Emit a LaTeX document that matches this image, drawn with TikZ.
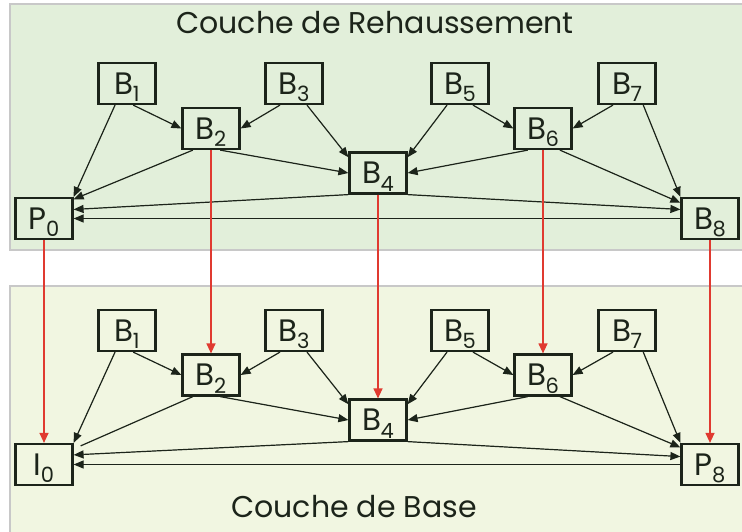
\documentclass[tikz,border=0pt]{standalone}
\usepackage{fontspec}
\setmainfont{Poppins}
\usetikzlibrary{arrows.meta}
\definecolor{ink}{RGB}{28,36,26}
\definecolor{enhfill}{RGB}{226,239,218}
\definecolor{basefill}{RGB}{241,246,225}
\definecolor{framegray}{RGB}{200,200,200}
\definecolor{predred}{RGB}{224,58,48}
\newcommand{\frm}[2]{#1\kern-0.5pt\raisebox{-0.45ex}[0pt][0pt]{\fontsize{21}{21}\selectfont #2}}
\tikzset{
  picbox/.style={draw=ink, line width=2.2pt, fill=none, minimum width=57pt, minimum height=41pt,
    inner sep=0pt, text=ink, font=\fontsize{31}{34}\selectfont},
  refarrow/.style={-{Triangle[length=10pt,width=8pt]}, draw=ink, fill=ink, line width=1.2pt},
  refline/.style={draw=ink, line width=1.2pt},
  interarrow/.style={-{Triangle[length=10pt,width=9pt]}, draw=predred, fill=predred, line width=1.2pt},
  layer/.style={draw=framegray, line width=1.5pt},
  layerlabel/.style={text=ink, font=\fontsize{30}{34}\selectfont},
}

\begin{document}
\begin{tikzpicture}[x=1pt, y=-1pt]
  \clip (0,0) rectangle (742,531);
  \fill[white] (0,0) rectangle (742,531);
  % layers
  \draw[layer, fill=enhfill] (10,4) rectangle (760,250);
  \draw[layer, fill=basefill] (10,286) rectangle (760,560);
  \node[layerlabel] (enhtitle) at (375,23) {Couche de Rehaussement};
  \node[layerlabel] (basetitle) at (354,507) {Couche de Base};

  % enhancement layer
  \node[picbox] (eB1) at (127,83.5) {\frm{B}{1}};
  \node[picbox] (eB2) at (211,128.5) {\frm{B}{2}};
  \node[picbox] (eB3) at (294,83.5) {\frm{B}{3}};
  \node[picbox] (eB4) at (378,173) {\frm{B}{4}};
  \node[picbox] (eB5) at (460,83.5) {\frm{B}{5}};
  \node[picbox] (eB6) at (543,128.5) {\frm{B}{6}};
  \node[picbox] (eB7) at (627,83.5) {\frm{B}{7}};
  \node[picbox] (eP0) at (44,218.5) {\frm{P}{0}};
  \node[picbox] (eB8) at (710,218.5) {\frm{B}{8}};
  \draw[refarrow] (eB1.241) -- (eP0.north east);
  \draw[refarrow] (eB1.286) -- (eB2.west);
  \draw[refarrow] (eB3.237) -- (eB2.east);
  \draw[refarrow] (eB3.301) -- (eB4.152);
  \draw[refarrow] (eB2.230) -- (eP0.33);
  \draw[refarrow] (eB2.293) -- (eB4.west);
  \draw[refarrow] (eB5.239) -- (eB4.28);
  \draw[refarrow] (eB5.301) -- (eB6.west);
  \draw[refarrow] (eB7.237) -- (eB6.east);
  \draw[refarrow] (eB7.307) -- (eB8.north west);
  \draw[refarrow] (eB6.235) -- (eB4.east);
  \draw[refarrow] (eB6.308) -- (eB8.152);
  \draw[refarrow] (eB4.south west) -- (eP0.17);
  \draw[refarrow] (eB4.south east) -- (eB8.163);
  \draw[refarrow] (eB8.west) -- (eP0.east);

  % base layer
  \node[picbox] (bB1) at (127,330.5) {\frm{B}{1}};
  \node[picbox] (bB2) at (211,375) {\frm{B}{2}};
  \node[picbox] (bB3) at (294,330.5) {\frm{B}{3}};
  \node[picbox] (bB4) at (378,420) {\frm{B}{4}};
  \node[picbox] (bB5) at (460,330.5) {\frm{B}{5}};
  \node[picbox] (bB6) at (543,375) {\frm{B}{6}};
  \node[picbox] (bB7) at (627,330.5) {\frm{B}{7}};
  \node[picbox] (bI0) at (44,464.5) {\frm{I}{0}};
  \node[picbox] (bP8) at (710,464.5) {\frm{P}{8}};
  \draw[refarrow] (bB1.241) -- (bI0.north east);
  \draw[refarrow] (bB1.286) -- (bB2.west);
  \draw[refarrow] (bB3.237) -- (bB2.east);
  \draw[refarrow] (bB3.301) -- (bB4.152);
  \draw[refline] (bB2.230) -- ([xshift=7pt,yshift=-3pt]bI0.north east);
  \draw[refarrow] (bB2.293) -- (bB4.west);
  \draw[refarrow] (bB5.239) -- (bB4.28);
  \draw[refarrow] (bB5.301) -- (bB6.west);
  \draw[refarrow] (bB7.237) -- (bB6.east);
  \draw[refarrow] (bB7.307) -- (bP8.north west);
  \draw[refarrow] (bB6.235) -- (bB4.east);
  \draw[refarrow] (bB6.308) -- (bP8.150);
  \draw[refarrow] (bB4.south west) -- (bI0.18);
  \draw[refarrow] (bB4.south east) -- (bP8.165);
  \draw[refarrow] (bP8.west) -- (bI0.east);

  % inter-layer prediction
  \draw[interarrow] (eP0.south) -- (bI0.north);
  \draw[interarrow] (eB2.south) -- (bB2.north);
  \draw[interarrow] (eB4.south) -- (bB4.north);
  \draw[interarrow] (eB6.south) -- (bB6.north);
  \draw[interarrow] (eB8.south) -- (bP8.north);
\end{tikzpicture}
\end{document}
